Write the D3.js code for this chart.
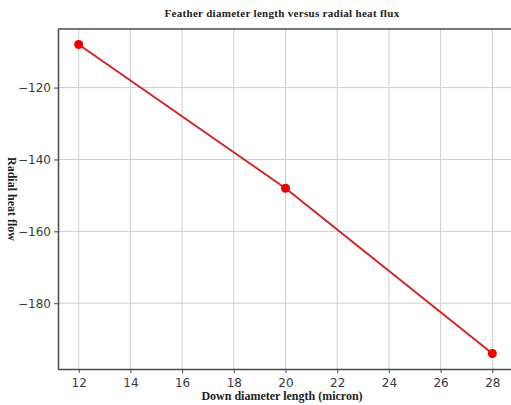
<!DOCTYPE html>
<html>
<head>
<meta charset="utf-8">
<script src="https://cdn.jsdelivr.net/npm/d3@7"></script>
<style>
  body { margin: 0; background: #fff; }
  svg { display: block; }
</style>
</head>
<body>
<div id="chart"></div>
<script>
// data
let diameters = [12, 20, 28];
let heatFlow = [-108, -148, -194];
let xTicks = [12, 14, 16, 18, 20, 22, 24, 26, 28];
let yTicks = [-180, -160, -140, -120];

let svgWidth = 511;
let svgHeight = 405;
let margin = {left: 58, top: 29, right: -2, bottom: 36};

let svg = d3.select("#chart")
  .append("svg")
  .attr("width", svgWidth)
  .attr("height", svgHeight);

// matplotlib-style 5% padding on the data range
let xPad = (d3.max(diameters) - d3.min(diameters)) * 0.05;
let yPad = (d3.max(heatFlow) - d3.min(heatFlow)) * 0.05;

let xScale = d3.scaleLinear()
  .domain([d3.min(diameters) - xPad, d3.max(diameters) + xPad])
  .range([margin.left, svgWidth - margin.right]);

let yScale = d3.scaleLinear()
  .domain([d3.min(heatFlow) - yPad, d3.max(heatFlow) + yPad])
  .range([svgHeight - margin.bottom, margin.top]);

let tickFont = "'DejaVu Sans', sans-serif";
let labelFont = "'Liberation Serif', 'DejaVu Serif', serif";

// grid
svg.append("g")
  .selectAll("line.gx")
  .data(xTicks)
  .enter()
  .append("line")
  .attr("x1", d => xScale(d)).attr("x2", d => xScale(d))
  .attr("y1", margin.top).attr("y2", svgHeight - margin.bottom)
  .attr("stroke", "#cfcfcf").attr("stroke-width", 1);

svg.append("g")
  .selectAll("line.gy")
  .data(yTicks)
  .enter()
  .append("line")
  .attr("x1", margin.left).attr("x2", svgWidth - margin.right)
  .attr("y1", d => yScale(d)).attr("y2", d => yScale(d))
  .attr("stroke", "#cfcfcf").attr("stroke-width", 1);

// axes
let xAxis = svg.append("g")
  .attr("transform", `translate(0,${svgHeight - margin.bottom})`)
  .call(d3.axisBottom(xScale).tickValues(xTicks).tickSize(4).tickSizeOuter(0));

let yAxis = svg.append("g")
  .attr("transform", `translate(${margin.left},0)`)
  .call(d3.axisLeft(yScale).tickValues(yTicks).tickSize(4).tickSizeOuter(0)
    .tickFormat(d => "\u2212" + Math.abs(d)));

[xAxis, yAxis].forEach(a => {
  a.select(".domain").attr("stroke", "#4a4a4a").attr("stroke-width", 1.5);
  a.selectAll(".tick line").attr("stroke", "#4a4a4a");
  a.selectAll(".tick text")
    .attr("fill", "#3a3a3a")
    .style("font-family", tickFont)
    .style("font-size", "12px");
});
xAxis.selectAll(".tick text").attr("dy", "0.95em");

// top spine
svg.append("line")
  .attr("x1", margin.left).attr("x2", svgWidth - margin.right)
  .attr("y1", margin.top).attr("y2", margin.top)
  .attr("stroke", "#4a4a4a").attr("stroke-width", 1.5);

// line + markers
let line = d3.line()
  .x((d, i) => xScale(diameters[i]))
  .y(d => yScale(d));

svg.append("path")
  .datum(heatFlow)
  .attr("d", line)
  .attr("fill", "none")
  .attr("stroke", "#d42424")
  .attr("stroke-width", 2);

svg.selectAll("circle")
  .data(heatFlow)
  .enter()
  .append("circle")
  .attr("cx", (d, i) => xScale(diameters[i]))
  .attr("cy", d => yScale(d))
  .attr("r", 4.5)
  .attr("fill", "#f00000");

// texts
svg.append("text")
  .attr("x", 282).attr("y", 17)
  .attr("text-anchor", "middle")
  .style("font-family", labelFont)
  .style("font-size", "11px")
  .style("font-weight", "bold")
  .style("letter-spacing", "0.3px")
  .attr("fill", "#222")
  .text("Feather diameter length versus radial heat flux");

svg.append("text")
  .attr("x", 282).attr("y", 400)
  .attr("text-anchor", "middle")
  .style("font-family", labelFont)
  .style("font-size", "12px")
  .style("font-weight", "bold")
  .attr("fill", "#222")
  .text("Down diameter length (micron)");

svg.append("text")
  .attr("transform", "translate(8,199) rotate(90)")
  .attr("text-anchor", "middle")
  .style("font-family", labelFont)
  .style("font-size", "12px")
  .style("font-weight", "bold")
  .attr("fill", "#222")
  .text("Radial heat flow");
</script>
</body>
</html>
